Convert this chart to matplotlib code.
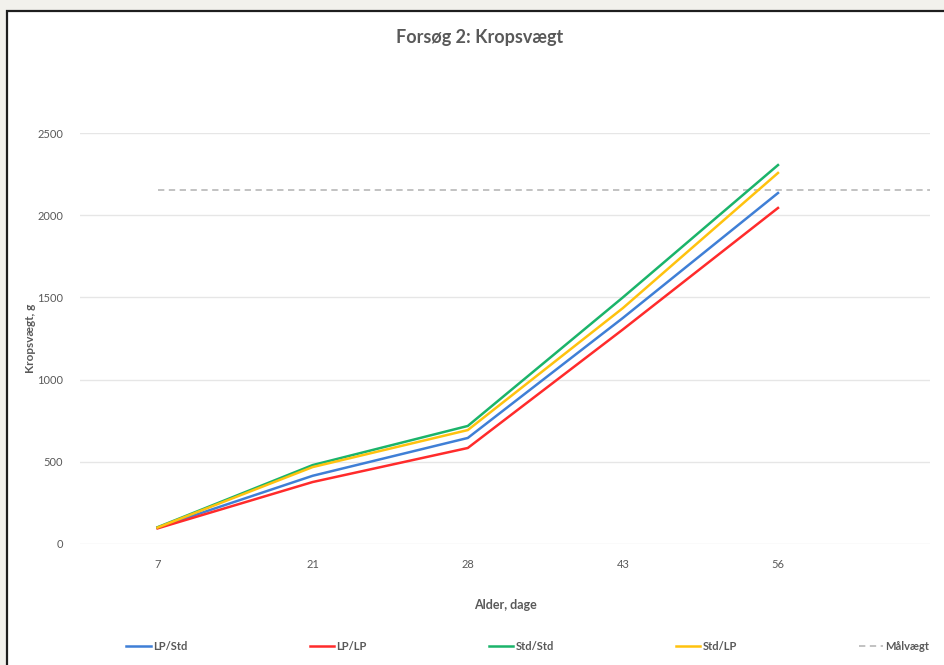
"""Forsøg 2: Kropsvægt -- body weight by age, four feeding regimes vs. target."""

import matplotlib

matplotlib.use("Agg")
import matplotlib.pyplot as plt
from matplotlib.patches import Rectangle

# Data
ages = ["7", "21", "28", "43", "56", ""]
lp_std = [100, 415, 645, 1375, 2135]
lp_lp = [95, 377, 584, 1305, 2044]
std_std = [102, 480, 718, 1500, 2305]
std_lp = [100, 468, 693, 1435, 2257]
maalvaegt = [2153, 2153, 2153, 2153, 2153, 2153]

_BLUE = "#3f7fd6"
_RED = "#ff2b2b"
_GREEN = "#1bb46a"
_YELLOW = "#ffc20e"
_TARGET = "#bdbdbd"
_TEXT = "#595959"
_GRID = "#e6e6e6"

plt.rcParams["font.family"] = ["Lato", "DejaVu Sans"]

W, H = 944, 665
fig = plt.figure(figsize=(W / 100, H / 100), dpi=100)
fig.patch.set_facecolor("#f2f1ec")

# white chart panel with a dark frame (cut off at right and bottom)
fig.patches.append(
    Rectangle((7 / W, -0.05), 1.1, 1 - 11 / H + 0.05, transform=fig.transFigure,
              facecolor="white", edgecolor="#1e1e1e", linewidth=1.6, zorder=-1)
)

ax = fig.add_axes([80 / W, (H - 544) / H, (930 - 80) / W, (544 - 133) / H])
ax.set_facecolor("none")
for side in ax.spines.values():
    side.set_visible(False)

xs = list(range(len(ages)))
n = len(lp_std)
ax.plot(xs[:n], lp_std, color=_BLUE, lw=1.8, label="LP/Std", zorder=3)
ax.plot(xs[:n], lp_lp, color=_RED, lw=1.8, label="LP/LP", zorder=3)
ax.plot(xs[:n], std_std, color=_GREEN, lw=1.8, label="Std/Std", zorder=3)
ax.plot(xs[:n], std_lp, color=_YELLOW, lw=1.8, label="Std/LP", zorder=3)
ax.plot(xs, maalvaegt, color=_TARGET, lw=1.3, ls=(0, (3.5, 2.5)), label="Målvægt",
        zorder=2)

ax.set_xlim(-0.5, 4.98)
ax.set_ylim(0, 2500)
ax.set_yticks(range(0, 2501, 500))
ax.set_xticks(xs[:n])
ax.set_xticklabels(ages[:n])
ax.grid(axis="y", color=_GRID, linewidth=1.0)
ax.set_axisbelow(True)
ax.tick_params(length=0, labelsize=8, labelcolor=_TEXT)
ax.tick_params(axis="x", pad=11)
ax.tick_params(axis="y", pad=12)

ax.set_ylabel("Kropsvægt, g", fontsize=8.5, fontweight="bold", color=_TEXT,
              labelpad=1)
ax.set_xlabel("Alder, dage", fontsize=9, fontweight="bold", color=_TEXT,
              labelpad=21)
fig.text(480 / W, 1 - 38 / H, "Forsøg 2: Kropsvægt", ha="center", va="center",
         fontsize=13, fontweight="bold", color=_TEXT)

leg = fig.legend(loc="center left", bbox_to_anchor=(122 / W, 1 - 646 / H, 812 / W, 0),
                 ncol=5, mode="expand", frameon=False, fontsize=8,
                 handlelength=2.2, handletextpad=0.2, borderaxespad=0)
for t in leg.get_texts():
    t.set_color(_TEXT)
    t.set_fontweight("bold")

fig.savefig("out.png", dpi=100, facecolor=fig.get_facecolor())
